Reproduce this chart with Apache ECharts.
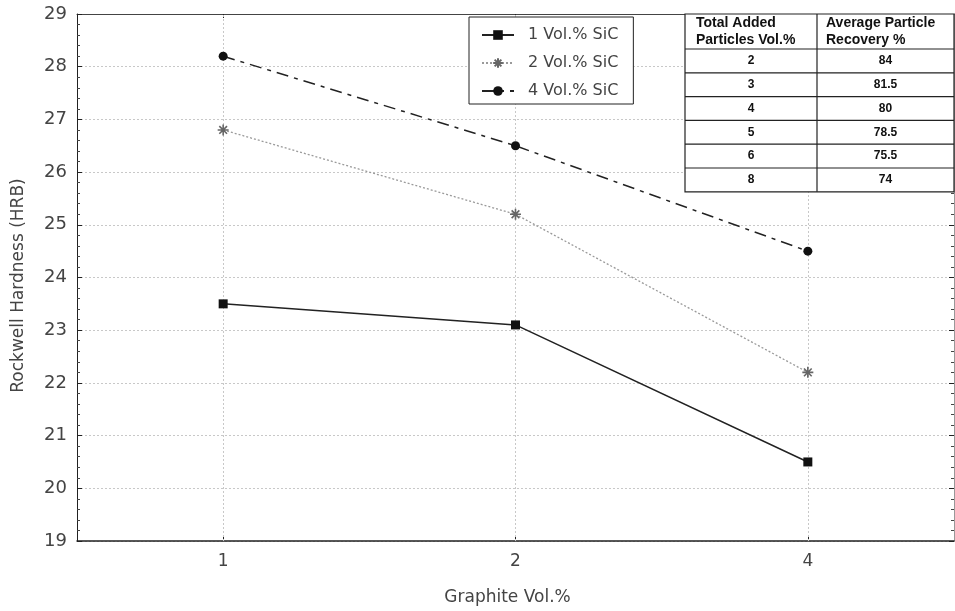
<!DOCTYPE html>
<html>
<head>
<meta charset="utf-8">
<script src="https://cdn.jsdelivr.net/npm/echarts@6/dist/echarts.min.js"></script>
<style>
  html, body { margin: 0; padding: 0; background: #fff; }
  #chart { width: 955px; height: 611px; }
</style>
</head>
<body>
<div id="chart"></div>
<script>
// Graphite content on the x axis
const graphite = ['1', '2', '4'];
// Rockwell hardness (HRB) for each SiC level
const sic1 = [23.5, 23.1, 20.5];
const sic2 = [26.8, 25.2, 22.2];
const sic4 = [28.2, 26.5, 24.5];
const seriesNames = ['1 Vol.% SiC', '2 Vol.% SiC', '4 Vol.% SiC'];
// Inset table: particle recovery
const tableHeader = [['Total Added', 'Particles Vol.%'], ['Average Particle', 'Recovery %']];
const addedVol = ['2', '3', '4', '5', '6', '8'];
const recovery = ['84', '81.5', '80', '78.5', '75.5', '74'];

const FONT = '"DejaVu Sans", Verdana, sans-serif';
const TABLE_FONT = '"Liberation Sans", Arial, sans-serif';
const asterisk = 'path://M0,5L10,5M5,0L5,10M1.5,1.5L8.5,8.5M8.5,1.5L1.5,8.5';

// Table built as graphic elements
function buildTable() {
  const x0 = 685, x1 = 954, xm = 817, y0 = 14, yh = 49, rowH = 23.8;
  const els = [];
  const n = addedVol.length;
  const yEnd = yh + rowH * n;
  els.push({ type: 'rect', shape: { x: x0, y: y0, width: x1 - x0, height: yEnd - y0 },
    style: { fill: '#fff', stroke: '#222', lineWidth: 1.2 }, z: 10 });
  els.push({ type: 'line', shape: { x1: xm, y1: y0, x2: xm, y2: yEnd },
    style: { stroke: '#222', lineWidth: 1.2 }, z: 11 });
  els.push({ type: 'line', shape: { x1: x0, y1: yh, x2: x1, y2: yh },
    style: { stroke: '#222', lineWidth: 1.2 }, z: 11 });
  for (let i = 1; i < n; i++) {
    const y = yh + rowH * i;
    els.push({ type: 'line', shape: { x1: x0, y1: y, x2: x1, y2: y },
      style: { stroke: '#222', lineWidth: 1.2 }, z: 11 });
  }
  const hx = [x0 + 11, xm + 9];
  tableHeader.forEach((lines, c) => {
    els.push({ type: 'text', x: hx[c], y: y0 + 1, z: 12,
      style: { text: lines.join('\n'), fill: '#111', font: 'bold 14px ' + TABLE_FONT, lineHeight: 17,
        textAlign: 'left', textVerticalAlign: 'top' } });
  });
  for (let i = 0; i < n; i++) {
    const yc = yh + rowH * (i + 0.5);
    els.push({ type: 'text', x: (x0 + xm) / 2, y: yc, z: 12,
      style: { text: addedVol[i], fill: '#111', font: 'bold 12px ' + TABLE_FONT,
        textAlign: 'center', textVerticalAlign: 'middle' } });
    els.push({ type: 'text', x: (xm + x1) / 2, y: yc, z: 12,
      style: { text: recovery[i], fill: '#111', font: 'bold 12px ' + TABLE_FONT,
        textAlign: 'center', textVerticalAlign: 'middle' } });
  }
  return els;
}

const chart = echarts.init(document.getElementById('chart'), null, { renderer: 'canvas' });

const yCommon = {
  type: 'value', min: 19, max: 29, interval: 1,
  axisLine: { show: true, lineStyle: { color: '#222', width: 1 } },
  axisTick: { show: true, inside: true, length: 5, lineStyle: { color: '#222' } },
  minorTick: { show: true, splitNumber: 5, length: 3, lineStyle: { color: '#444' } },
};

chart.setOption({
  animation: false,
  backgroundColor: '#fff',
  textStyle: { fontFamily: FONT },
  grid: { left: 77, right: 1, top: 14, bottom: 70, containLabel: false },
  legend: {
    orient: 'vertical', left: 469, top: 17,
    data: seriesNames,
    itemWidth: 32, itemHeight: 12, itemGap: 12,
    padding: [10, 15, 5, 12],
    borderColor: '#222', borderWidth: 1, backgroundColor: '#fff',
    textStyle: { fontSize: 16, color: '#444', fontFamily: FONT, padding: [0, 0, 0, 9] },
    z: 20
  },
  xAxis: [{
    type: 'category', data: graphite, boundaryGap: true,
    name: 'Graphite Vol.%', nameLocation: 'middle', nameGap: 48,
    nameTextStyle: { fontSize: 17, color: '#444', padding: [0, 16, 0, 0] },
    axisLine: { lineStyle: { color: '#222', width: 1.5 } },
    axisTick: { show: true, inside: true, alignWithLabel: true, length: 5, lineStyle: { color: '#222' } },
    axisLabel: { fontSize: 17, color: '#444', margin: 12 },
    splitLine: { show: false }
  }, {
    type: 'category', data: graphite, boundaryGap: true, position: 'top',
    axisLine: { lineStyle: { color: '#444', width: 1 } },
    axisTick: { show: true, inside: true, alignWithLabel: true, length: 4, lineStyle: { color: '#222' } },
    axisLabel: { show: false }
  }],
  yAxis: [Object.assign({}, yCommon, {
    position: 'left',
    name: 'Rockwell Hardness (HRB)', nameLocation: 'middle', nameGap: 50,
    nameTextStyle: { fontSize: 17, color: '#444', padding: [0, 16, 0, 0] },
    axisLabel: { fontSize: 18, color: '#444', margin: 10 },
    splitLine: { show: true, lineStyle: { color: '#c8c8c8', type: [2, 2], width: 1 } }
  }), Object.assign({}, yCommon, {
    position: 'right',
    axisLine: { show: true, lineStyle: { color: '#999', width: 1 } },
    axisLabel: { show: false },
    splitLine: { show: false }
  })],
  series: [{
    name: seriesNames[0], type: 'line', data: sic1,
    symbol: 'rect', symbolSize: 9,
    lineStyle: { color: '#222', width: 1.5, type: 'solid' },
    itemStyle: { color: '#111' },
    z: 5,
    markLine: {
      silent: true, symbol: 'none', label: { show: false },
      lineStyle: { color: '#c8c8c8', type: [2, 2], width: 1 },
      data: graphite.map(g => ({ xAxis: g })),
      z: 1
    }
  }, {
    name: seriesNames[1], type: 'line', data: sic2,
    symbol: asterisk, symbolSize: 11,
    lineStyle: { color: '#9a9a9a', width: 1.3, type: [2, 2] },
    itemStyle: { color: 'rgba(0,0,0,0)', borderColor: '#666', borderWidth: 1.6 },
    z: 5
  }, {
    name: seriesNames[2], type: 'line', data: sic4,
    symbol: 'circle', symbolSize: 9,
    lineStyle: { color: '#222', width: 1.5, type: [12, 6, 4, 6] },
    itemStyle: { color: '#111' },
    z: 5
  }],
  graphic: buildTable()
});
</script>
</body>
</html>
